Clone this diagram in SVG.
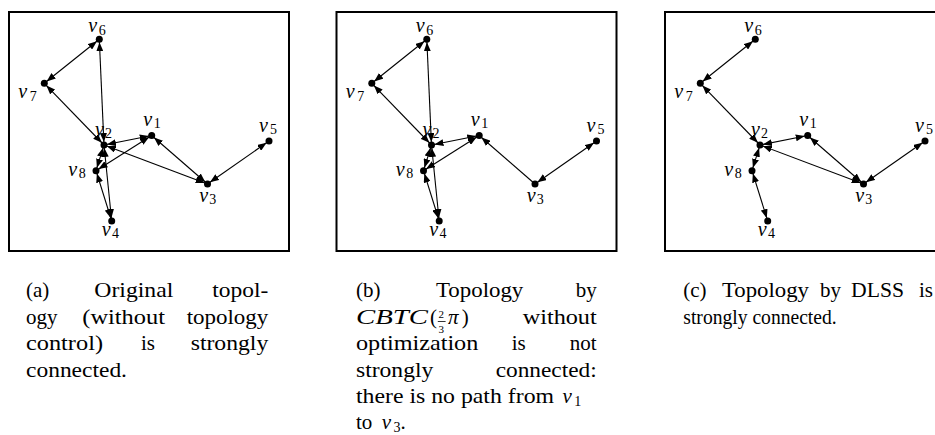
<svg xmlns="http://www.w3.org/2000/svg" width="935" height="435" viewBox="0 0 935 435">
<defs>
<marker id="ah" viewBox="0 0 9 7" refX="12" refY="3.5" markerWidth="9" markerHeight="7" markerUnits="userSpaceOnUse" orient="auto-start-reverse"><path d="M0,0 L9,3.5 L0,7 z" fill="#000"/></marker>
</defs>
<style>
.frame{fill:none;stroke:#000;stroke-width:2}
.e{stroke:#000;stroke-width:1.1;fill:none}
.bi{marker-start:url(#ah);marker-end:url(#ah)}
.uni{marker-end:url(#ah)}
.dot{fill:#000}
.v{font-family:"Liberation Serif",serif;font-style:italic;font-size:20px;fill:#000}
.s{font-family:"Liberation Serif",serif;font-style:normal;font-size:14px}
.cap{font-family:"Liberation Serif",serif;font-size:21px;fill:#000}
.mi{font-style:italic}
.end{text-anchor:end}
</style>
<rect x="0" y="0" width="935" height="435" fill="#fff"/>

<!-- Panel (a) -->
<g id="panel-a">
<rect class="frame" x="9" y="12" width="280" height="239"/>
<g id="a-edges">
<line class="e bi" x1="99.3" y1="39.3" x2="44.3" y2="83.3"/>
<line class="e bi" x1="44.3" y1="83.3" x2="104" y2="145"/>
<line class="e bi" x1="104" y1="145" x2="99.3" y2="39.3"/>
<line class="e bi" x1="104" y1="145" x2="151.7" y2="135.5"/>
<line class="e bi" x1="151.7" y1="135.5" x2="96" y2="170.7"/>
<line class="e bi" x1="104" y1="145" x2="96" y2="170.7"/>
<line class="e bi" x1="96" y1="170.7" x2="111.7" y2="221"/>
<line class="e bi" x1="104" y1="145" x2="111.7" y2="221"/>
<line class="e bi" x1="104" y1="145" x2="207.5" y2="184"/>
<line class="e bi" x1="151.7" y1="135.5" x2="207.5" y2="184"/>
<line class="e bi" x1="207.5" y1="184" x2="269" y2="141"/>
</g>
<g id="a-v1"><circle class="dot" cx="151.7" cy="135.5" r="3.5"/><text class="v" x="143.3" y="125.5">v<tspan class="s" dx="1.5" dy="2">1</tspan></text></g>
<g id="a-v2"><circle class="dot" cx="104" cy="145" r="3.5"/><text class="v" x="95" y="135.5">v<tspan class="s" dx="1" dy="2">2</tspan></text></g>
<g id="a-v3"><circle class="dot" cx="207.5" cy="184" r="3.5"/><text class="v" x="199.3" y="201.5">v<tspan class="s" dx="1" dy="2.5">3</tspan></text></g>
<g id="a-v4"><circle class="dot" cx="111.7" cy="221" r="3.5"/><text class="v" x="101.7" y="235.5">v<tspan class="s" dx="1.5" dy="2.5">4</tspan></text></g>
<g id="a-v5"><circle class="dot" cx="269" cy="141" r="3.5"/><text class="v" x="259" y="131.5">v<tspan class="s" dx="2" dy="2">5</tspan></text></g>
<g id="a-v6"><circle class="dot" cx="99.3" cy="39.3" r="3.5"/><text class="v" x="88.3" y="32">v<tspan class="s" dx="1.5" dy="2.5">6</tspan></text></g>
<g id="a-v7"><circle class="dot" cx="44.3" cy="83.3" r="3.5"/><text class="v" x="18.3" y="98">v<tspan class="s" dx="2.5" dy="3">7</tspan></text></g>
<g id="a-v8"><circle class="dot" cx="96" cy="170.7" r="3.5"/><text class="v" x="68.3" y="175.5">v<tspan class="s" dx="1.5" dy="2">8</tspan></text></g>
</g>

<!-- Panel (b) -->
<g id="panel-b" transform="translate(327.5,0)">
<rect class="frame" x="9" y="12" width="280" height="239"/>
<g id="b-edges">
<line class="e bi" x1="99.3" y1="39.3" x2="44.3" y2="83.3"/>
<line class="e bi" x1="44.3" y1="83.3" x2="104" y2="145"/>
<line class="e bi" x1="104" y1="145" x2="99.3" y2="39.3"/>
<line class="e bi" x1="104" y1="145" x2="151.7" y2="135.5"/>
<line class="e bi" x1="151.7" y1="135.5" x2="96" y2="170.7"/>
<line class="e bi" x1="104" y1="145" x2="96" y2="170.7"/>
<line class="e bi" x1="96" y1="170.7" x2="111.7" y2="221"/>
<line class="e bi" x1="104" y1="145" x2="111.7" y2="221"/>
<line class="e uni" x1="207.5" y1="184" x2="151.7" y2="135.5"/>
<line class="e bi" x1="207.5" y1="184" x2="269" y2="141"/>
</g>
<g id="b-v1"><circle class="dot" cx="151.7" cy="135.5" r="3.5"/><text class="v" x="143.3" y="125.5">v<tspan class="s" dx="1.5" dy="2">1</tspan></text></g>
<g id="b-v2"><circle class="dot" cx="104" cy="145" r="3.5"/><text class="v" x="95" y="135.5">v<tspan class="s" dx="1" dy="2">2</tspan></text></g>
<g id="b-v3"><circle class="dot" cx="207.5" cy="184" r="3.5"/><text class="v" x="199.3" y="201.5">v<tspan class="s" dx="1" dy="2.5">3</tspan></text></g>
<g id="b-v4"><circle class="dot" cx="111.7" cy="221" r="3.5"/><text class="v" x="101.7" y="235.5">v<tspan class="s" dx="1.5" dy="2.5">4</tspan></text></g>
<g id="b-v5"><circle class="dot" cx="269" cy="141" r="3.5"/><text class="v" x="259" y="131.5">v<tspan class="s" dx="2" dy="2">5</tspan></text></g>
<g id="b-v6"><circle class="dot" cx="99.3" cy="39.3" r="3.5"/><text class="v" x="88.3" y="32">v<tspan class="s" dx="1.5" dy="2.5">6</tspan></text></g>
<g id="b-v7"><circle class="dot" cx="44.3" cy="83.3" r="3.5"/><text class="v" x="18.3" y="98">v<tspan class="s" dx="2.5" dy="3">7</tspan></text></g>
<g id="b-v8"><circle class="dot" cx="96" cy="170.7" r="3.5"/><text class="v" x="68.3" y="175.5">v<tspan class="s" dx="1.5" dy="2">8</tspan></text></g>
</g>

<!-- Panel (c) -->
<g id="panel-c" transform="translate(656,0)">
<rect class="frame" x="9" y="12" width="280" height="239"/>
<g id="c-edges">
<line class="e bi" x1="99.3" y1="39.3" x2="44.3" y2="83.3"/>
<line class="e bi" x1="44.3" y1="83.3" x2="104" y2="145"/>
<line class="e bi" x1="104" y1="145" x2="151.7" y2="135.5"/>
<line class="e bi" x1="104" y1="145" x2="96" y2="170.7"/>
<line class="e bi" x1="96" y1="170.7" x2="111.7" y2="221"/>
<line class="e bi" x1="104" y1="145" x2="207.5" y2="184"/>
<line class="e bi" x1="151.7" y1="135.5" x2="207.5" y2="184"/>
<line class="e bi" x1="207.5" y1="184" x2="269" y2="141"/>
</g>
<g id="c-v1"><circle class="dot" cx="151.7" cy="135.5" r="3.5"/><text class="v" x="143.3" y="125.5">v<tspan class="s" dx="1.5" dy="2">1</tspan></text></g>
<g id="c-v2"><circle class="dot" cx="104" cy="145" r="3.5"/><text class="v" x="95" y="135.5">v<tspan class="s" dx="1" dy="2">2</tspan></text></g>
<g id="c-v3"><circle class="dot" cx="207.5" cy="184" r="3.5"/><text class="v" x="199.3" y="201.5">v<tspan class="s" dx="1" dy="2.5">3</tspan></text></g>
<g id="c-v4"><circle class="dot" cx="111.7" cy="221" r="3.5"/><text class="v" x="101.7" y="235.5">v<tspan class="s" dx="1.5" dy="2.5">4</tspan></text></g>
<g id="c-v5"><circle class="dot" cx="269" cy="141" r="3.5"/><text class="v" x="259" y="131.5">v<tspan class="s" dx="2" dy="2">5</tspan></text></g>
<g id="c-v6"><circle class="dot" cx="99.3" cy="39.3" r="3.5"/><text class="v" x="88.3" y="32">v<tspan class="s" dx="1.5" dy="2.5">6</tspan></text></g>
<g id="c-v7"><circle class="dot" cx="44.3" cy="83.3" r="3.5"/><text class="v" x="18.3" y="98">v<tspan class="s" dx="2.5" dy="3">7</tspan></text></g>
<g id="c-v8"><circle class="dot" cx="96" cy="170.7" r="3.5"/><text class="v" x="68.3" y="175.5">v<tspan class="s" dx="1.5" dy="2">8</tspan></text></g>
</g>

<!-- Captions -->
<g id="caption-a" class="cap">
<text x="26" y="297">(a)</text>
<text x="94.3" y="297" textLength="79" lengthAdjust="spacingAndGlyphs">Original</text>
<text class="end" x="268.3" y="297" textLength="56" lengthAdjust="spacingAndGlyphs">topol-</text>
<text x="26" y="323.5">ogy</text>
<text x="82.3" y="323.5" textLength="82.7" lengthAdjust="spacingAndGlyphs">(without</text>
<text class="end" x="268.3" y="323.5" textLength="81.6" lengthAdjust="spacingAndGlyphs">topology</text>
<text x="26" y="350" textLength="77" lengthAdjust="spacingAndGlyphs">control)</text>
<text x="141" y="350">is</text>
<text class="end" x="268.3" y="350" textLength="77.6" lengthAdjust="spacingAndGlyphs">strongly</text>
<text x="26" y="376.5" textLength="101" lengthAdjust="spacingAndGlyphs">connected.</text>
</g>

<g id="caption-b" class="cap">
<text x="356" y="297">(b)</text>
<text x="436" y="297" textLength="87.3" lengthAdjust="spacingAndGlyphs">Topology</text>
<text class="end" x="596.7" y="297">by</text>
<text x="356" y="324" class="mi" textLength="72" lengthAdjust="spacingAndGlyphs">CBTC</text>
<text x="430" y="324">(</text>
<text x="438.5" y="318" style="font-size:11px">2</text>
<line x1="437.8" y1="321.5" x2="445.6" y2="321.5" stroke="#000" stroke-width="0.8"/>
<text x="438.5" y="332.5" style="font-size:11px">3</text>
<text x="448" y="324" class="mi">π</text>
<text x="461.7" y="324">)</text>
<text class="end" x="596.7" y="323.5" textLength="74" lengthAdjust="spacingAndGlyphs">without</text>
<text x="356" y="350" textLength="122.3" lengthAdjust="spacingAndGlyphs">optimization</text>
<text x="511.7" y="350">is</text>
<text class="end" x="596.7" y="350">not</text>
<text x="356" y="376.5" textLength="77.3" lengthAdjust="spacingAndGlyphs">strongly</text>
<text class="end" x="596.7" y="376.5" textLength="101" lengthAdjust="spacingAndGlyphs">connected:</text>
<text x="356" y="403" textLength="198" lengthAdjust="spacingAndGlyphs">there is no path from</text>
<text x="562.5" y="403" class="mi">v<tspan class="s" dx="2.5" dy="3">1</tspan></text>
<text x="356" y="429">to</text>
<text x="381.7" y="429" class="mi">v<tspan class="s" dx="2.5" dy="3">3</tspan><tspan dy="-3" style="font-style:normal">.</tspan></text>
</g>

<g id="caption-c" class="cap">
<text x="683.3" y="297">(c)</text>
<text x="722" y="297" textLength="87" lengthAdjust="spacingAndGlyphs">Topology</text>
<text x="820" y="297">by</text>
<text x="851" y="297" textLength="53" lengthAdjust="spacingAndGlyphs">DLSS</text>
<text class="end" x="933" y="297">is</text>
<text x="683.3" y="323.5" textLength="153.4" lengthAdjust="spacingAndGlyphs">strongly connected.</text>
</g>
</svg>
